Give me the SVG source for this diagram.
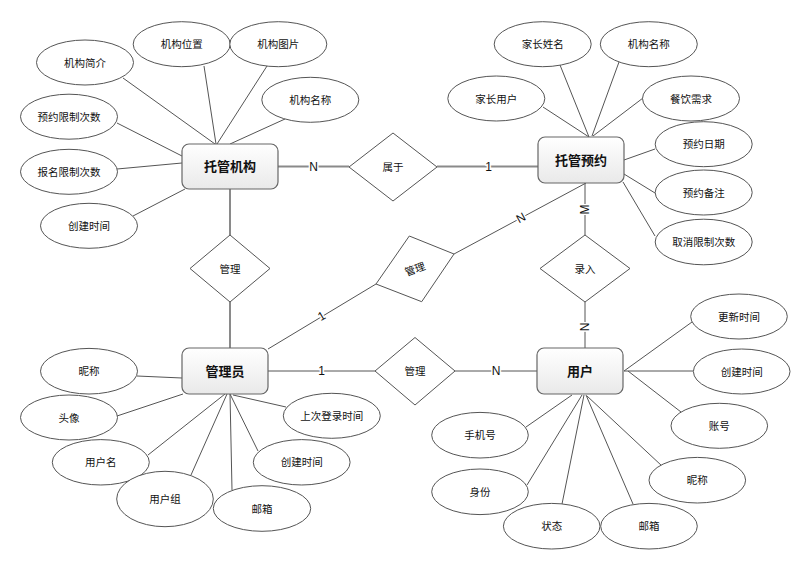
<svg xmlns="http://www.w3.org/2000/svg" width="810" height="568" viewBox="0 0 810 568">
<defs>
<linearGradient id="eg" x1="0" y1="0" x2="0" y2="1">
<stop offset="0" stop-color="#ffffff"/>
<stop offset="1" stop-color="#e9e9e9"/>
</linearGradient>
<style>
text{font-family:"Liberation Sans","Noto Sans CJK SC",sans-serif;fill:#111;text-anchor:middle;dominant-baseline:central}
.ent rect{fill:url(#eg);stroke:#666;stroke-width:1.2}
.ent text{font-size:13px;font-weight:bold}
.attr ellipse{fill:#fff;stroke:#555;stroke-width:1}
.attr text{font-size:10.5px}
.rel polygon{fill:#fff;stroke:#555;stroke-width:1}
.rel text{font-size:10.5px}
.thin{stroke:#555;stroke-width:1;fill:none}
.thick{stroke:#8a8a8a;stroke-width:2;fill:none}
.card{font-size:12px;stroke:#fff;stroke-width:3;paint-order:stroke;stroke-linejoin:round}
</style>
</defs>
<rect width="810" height="568" fill="#fff"/>
<g id="connectors">
<line class="thin" x1="123" y1="78" x2="215" y2="144"/>
<line class="thin" x1="204" y1="66" x2="216" y2="144"/>
<line class="thin" x1="267" y1="66" x2="217" y2="144"/>
<line class="thin" x1="285" y1="119" x2="230" y2="144"/>
<line class="thin" x1="117" y1="123" x2="182" y2="156"/>
<line class="thin" x1="117" y1="169" x2="182" y2="163"/>
<line class="thin" x1="133" y1="216" x2="185" y2="189"/>
<line class="thin" x1="543" y1="107" x2="589" y2="137"/>
<line class="thin" x1="560" y1="65" x2="589" y2="137"/>
<line class="thin" x1="619" y1="62" x2="592" y2="136"/>
<line class="thin" x1="643" y1="98" x2="593" y2="136"/>
<line class="thin" x1="655" y1="149" x2="624" y2="160"/>
<line class="thin" x1="655" y1="193" x2="624" y2="174"/>
<line class="thin" x1="655" y1="236" x2="623" y2="182"/>
<line class="thin" x1="137" y1="376" x2="182" y2="378"/>
<line class="thin" x1="117" y1="416" x2="183" y2="394"/>
<line class="thin" x1="148" y1="455" x2="225" y2="394"/>
<line class="thin" x1="191" y1="475" x2="227" y2="394"/>
<line class="thin" x1="232" y1="490" x2="230" y2="394"/>
<line class="thin" x1="258" y1="451" x2="230" y2="394"/>
<line class="thin" x1="286" y1="407" x2="233" y2="395"/>
<line class="thin" x1="692" y1="322" x2="624" y2="371"/>
<line class="thin" x1="693" y1="371" x2="624" y2="371"/>
<line class="thin" x1="681" y1="412" x2="628" y2="371"/>
<line class="thin" x1="662" y1="466" x2="587" y2="396"/>
<line class="thin" x1="633" y1="504" x2="586" y2="395"/>
<line class="thin" x1="562" y1="504" x2="584" y2="395"/>
<line class="thin" x1="527" y1="485" x2="582" y2="395"/>
<line class="thin" x1="526" y1="427" x2="572" y2="395"/>
<line class="thick" x1="278" y1="166.5" x2="349" y2="166.5"/>
<line class="thick" x1="437" y1="166.5" x2="538" y2="166.5"/>
<line class="thick" x1="230" y1="189" x2="230" y2="235"/>
<line class="thick" x1="230" y1="302" x2="230" y2="348"/>
<line class="thin" x1="268" y1="349" x2="376" y2="284"/>
<line class="thin" x1="454" y1="254" x2="586" y2="183"/>
<line class="thin" x1="585" y1="183" x2="585" y2="235"/>
<line class="thin" x1="585" y1="302" x2="585" y2="348"/>
<line class="thin" x1="268" y1="371" x2="375" y2="371"/>
<line class="thin" x1="455" y1="371" x2="537" y2="371"/>
<text class="card" x="313.5" y="166.5">N</text>
<text class="card" x="488.5" y="166.5">1</text>
<text class="card" x="321.5" y="316" transform="rotate(-30.6 321.5 316)">1</text>
<text class="card" x="521" y="218" transform="rotate(-28.5 521 218)">N</text>
<text class="card" x="585" y="209.5" transform="rotate(-90 585 209.5)">M</text>
<text class="card" x="585" y="327" transform="rotate(-90 585 327)">N</text>
<text class="card" x="321.5" y="371">1</text>
<text class="card" x="496" y="371">N</text>
</g>
<g id="rel-shuyu" class="rel"><polygon points="349,167 393,133 437,167 393,201"/><text x="393" y="167">属于</text></g>
<g id="rel-guanli-top" class="rel"><polygon points="190,268.5 230,235 270,268.5 230,302"/><text x="230" y="268.5">管理</text></g>
<g id="rel-luru" class="rel"><polygon points="540,268.5 585,235 630,268.5 585,302"/><text x="585" y="268.5">录入</text></g>
<g id="rel-guanli-user" class="rel"><polygon points="375,371 415,337.5 455,371 415,405"/><text x="415" y="371">管理</text></g>
<g id="rel-guanli-diag" class="rel"><polygon points="409.3,236 454,254 421.7,301.7 376,284"/><text x="415" y="269" transform="rotate(-20 415 269)">管理</text></g>
<g id="ent-tuoguanjigou" class="ent"><rect x="182" y="144" width="96" height="45" rx="7"/><text x="230" y="166.5">托管机构</text></g>
<g id="ent-tuoguanyuyue" class="ent"><rect x="538" y="137" width="86" height="46" rx="7"/><text x="581" y="160">托管预约</text></g>
<g id="ent-guanliyuan" class="ent"><rect x="182" y="348" width="86" height="46" rx="7"/><text x="225" y="371">管理员</text></g>
<g id="ent-yonghu" class="ent"><rect x="537" y="348" width="86" height="46" rx="7"/><text x="580" y="371">用户</text></g>
<g id="a1" class="attr"><ellipse cx="85" cy="62.5" rx="48.5" ry="22.5"/><text x="85" y="62.5">机构简介</text></g>
<g id="a2" class="attr"><ellipse cx="181.7" cy="44.2" rx="48.5" ry="22.5"/><text x="181.7" y="44.2">机构位置</text></g>
<g id="a3" class="attr"><ellipse cx="278.3" cy="44.2" rx="48.5" ry="22.5"/><text x="278.3" y="44.2">机构图片</text></g>
<g id="a4" class="attr"><ellipse cx="310.3" cy="99.8" rx="48.5" ry="22.5"/><text x="310.3" y="99.8">机构名称</text></g>
<g id="a5" class="attr"><ellipse cx="69" cy="116.7" rx="48.5" ry="22.5"/><text x="69" y="116.7">预约限制次数</text></g>
<g id="a6" class="attr"><ellipse cx="69" cy="171.8" rx="48.5" ry="22.5"/><text x="69" y="171.8">报名限制次数</text></g>
<g id="a7" class="attr"><ellipse cx="89" cy="225.8" rx="48.5" ry="22.5"/><text x="89" y="225.8">创建时间</text></g>
<g id="b1" class="attr"><ellipse cx="496.3" cy="98.5" rx="48.5" ry="22.5"/><text x="496.3" y="98.5">家长用户</text></g>
<g id="b2" class="attr"><ellipse cx="542.7" cy="44.2" rx="48.5" ry="22.5"/><text x="542.7" y="44.2">家长姓名</text></g>
<g id="b3" class="attr"><ellipse cx="648.8" cy="44.2" rx="48.5" ry="22.5"/><text x="648.8" y="44.2">机构名称</text></g>
<g id="b4" class="attr"><ellipse cx="691" cy="98.5" rx="48.5" ry="22.5"/><text x="691" y="98.5">餐饮需求</text></g>
<g id="b5" class="attr"><ellipse cx="703.7" cy="144.2" rx="48.5" ry="22.5"/><text x="703.7" y="144.2">预约日期</text></g>
<g id="b6" class="attr"><ellipse cx="703.7" cy="192.5" rx="48.5" ry="22.5"/><text x="703.7" y="192.5">预约备注</text></g>
<g id="b7" class="attr"><ellipse cx="703.7" cy="242" rx="48.5" ry="22.8"/><text x="703.7" y="242">取消限制次数</text></g>
<g id="c1" class="attr"><ellipse cx="89" cy="371.2" rx="48.5" ry="22.8"/><text x="89" y="371.2">昵称</text></g>
<g id="c2" class="attr"><ellipse cx="69" cy="417.5" rx="48.5" ry="22.5"/><text x="69" y="417.5">头像</text></g>
<g id="c3" class="attr"><ellipse cx="100.8" cy="462.3" rx="48.5" ry="22.7"/><text x="100.8" y="462.3">用户名</text></g>
<g id="c4" class="attr"><ellipse cx="165" cy="499" rx="48.3" ry="27.7"/><text x="165" y="499">用户组</text></g>
<g id="c5" class="attr"><ellipse cx="262" cy="508.5" rx="48.7" ry="22.8"/><text x="262" y="508.5">邮箱</text></g>
<g id="c6" class="attr"><ellipse cx="301.7" cy="462.3" rx="48.4" ry="22.7"/><text x="301.7" y="462.3">创建时间</text></g>
<g id="c7" class="attr"><ellipse cx="331.8" cy="415.8" rx="48.5" ry="22.5"/><text x="331.8" y="415.8">上次登录时间</text></g>
<g id="d1" class="attr"><ellipse cx="739" cy="316.5" rx="48.3" ry="22.5"/><text x="739" y="316.5">更新时间</text></g>
<g id="d2" class="attr"><ellipse cx="741.7" cy="371.5" rx="48.3" ry="22.5"/><text x="741.7" y="371.5">创建时间</text></g>
<g id="d3" class="attr"><ellipse cx="719.3" cy="425.8" rx="48.3" ry="22.5"/><text x="719.3" y="425.8">账号</text></g>
<g id="d4" class="attr"><ellipse cx="697.3" cy="480.2" rx="48.3" ry="22.8"/><text x="697.3" y="480.2">昵称</text></g>
<g id="d5" class="attr"><ellipse cx="551.7" cy="526.2" rx="48.3" ry="22.8"/><text x="551.7" y="526.2">状态</text></g>
<g id="d6" class="attr"><ellipse cx="649" cy="526.2" rx="48.3" ry="22.8"/><text x="649" y="526.2">邮箱</text></g>
<g id="d7" class="attr"><ellipse cx="480" cy="491.8" rx="48.3" ry="22.8"/><text x="480" y="491.8">身份</text></g>
<g id="d8" class="attr"><ellipse cx="480" cy="435.2" rx="48.3" ry="22.8"/><text x="480" y="435.2">手机号</text></g>
</svg>
